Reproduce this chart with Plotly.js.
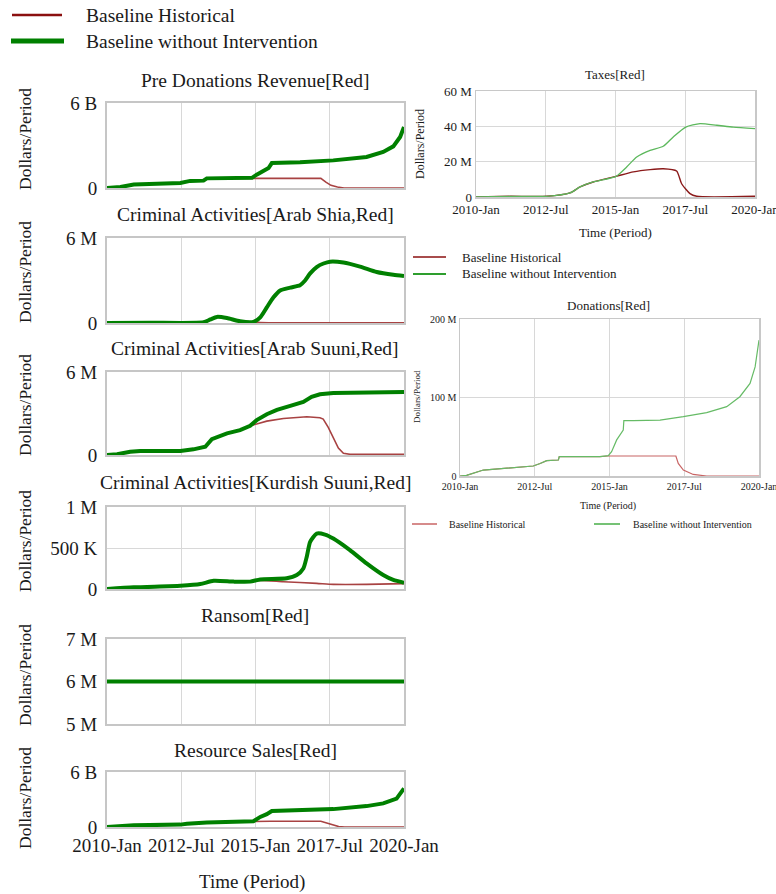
<!DOCTYPE html>
<html><head><meta charset="utf-8">
<script src="https://cdn.plot.ly/plotly-3.0.1.min.js"></script>
<style>html,body{margin:0;padding:0;background:#fff;} #chart{width:776px;height:894px;}</style>
</head><body><div id="chart"></div>
<script>
const W = 776, H = 894;
const serif = "'Liberation Serif', 'Times New Roman', serif";

// ---------- shared axis labels ----------
const timeTickVals = [2010, 2012.5, 2015, 2017.5, 2020];
const timeTickText = ["2010-Jan", "2012-Jul", "2015-Jan", "2017-Jul", "2020-Jan"];
const seriesNames = ["Baseline Historical", "Baseline without Intervention"];

// ---------- Pre Donations Revenue[Red] (B) ----------
const preDonTime  = [2010, 2010.45, 2010.9, 2011.46, 2012.47, 2012.8, 2013.25, 2013.36, 2014.26, 2014.88, 2015.04, 2015.27, 2015.44, 2015.55, 2016.5, 2017.62, 2018.74, 2019.3, 2019.64, 2019.87, 2020];
const preDonGreen = [0, 0.07, 0.24, 0.26, 0.35, 0.5, 0.52, 0.68, 0.68, 0.72, 0.94, 1.25, 1.41, 1.76, 1.81, 1.95, 2.19, 2.54, 2.94, 3.6, 4.3];
const preDonRedTime = [2010, 2010.45, 2010.9, 2011.46, 2012.47, 2012.8, 2013.25, 2013.36, 2014.26, 2014.88, 2016.0, 2017.2, 2017.37, 2017.54, 2017.76, 2017.98, 2020];
const preDonRed     = [0, 0.07, 0.24, 0.26, 0.35, 0.5, 0.52, 0.68, 0.68, 0.68, 0.68, 0.68, 0.42, 0.19, 0.07, 0.0, 0.0];

// ---------- Criminal Activities[Arab Shia,Red] (M) ----------
const shiaTime  = [2010, 2011.46, 2013.25, 2013.48, 2013.7, 2014.04, 2014.48, 2014.93, 2015.16, 2015.38, 2015.6, 2015.83, 2016.17, 2016.5, 2016.67, 2016.84, 2017.06, 2017.29, 2017.51, 2017.96, 2018.52, 2019.08, 2019.64, 2020];
const shiaGreen = [0, 0.02, 0.05, 0.25, 0.43, 0.35, 0.12, 0.08, 0.4, 1.1, 1.8, 2.3, 2.5, 2.67, 3.0, 3.5, 3.95, 4.2, 4.33, 4.27, 3.98, 3.6, 3.4, 3.32];
const shiaRedTime = [2010, 2011.46, 2013.25, 2013.48, 2013.7, 2014.04, 2014.48, 2014.93, 2015.16, 2020];
const shiaRed     = [0, 0.02, 0.05, 0.25, 0.43, 0.35, 0.12, 0.08, 0.04, 0.02];

// ---------- Criminal Activities[Arab Suuni,Red] (M) ----------
const suuniTime  = [2010, 2010.34, 2010.78, 2011.12, 2012.47, 2012.91, 2013.31, 2013.53, 2014.04, 2014.48, 2014.82, 2015.04, 2015.38, 2015.72, 2016.17, 2016.61, 2016.89, 2017.17, 2017.62, 2018.74, 2020];
const suuniGreen = [0, 0.05, 0.24, 0.29, 0.29, 0.41, 0.6, 1.15, 1.56, 1.8, 2.11, 2.52, 2.95, 3.26, 3.55, 3.84, 4.2, 4.39, 4.49, 4.51, 4.56];
const suuniRedTime = [2010, 2010.34, 2010.78, 2011.12, 2012.47, 2012.91, 2013.31, 2013.53, 2014.04, 2014.48, 2014.82, 2015.38, 2015.94, 2016.73, 2017.17, 2017.28, 2017.45, 2017.62, 2017.79, 2017.96, 2018.18, 2020];
const suuniRed     = [0, 0.05, 0.24, 0.29, 0.29, 0.41, 0.6, 1.15, 1.56, 1.8, 2.11, 2.45, 2.64, 2.76, 2.69, 2.6, 2.0, 1.2, 0.5, 0.12, 0.05, 0.05];

// ---------- Criminal Activities[Kurdish Suuni,Red] (K) ----------
const kurdTime  = [2010, 2010.9, 2012.47, 2013.14, 2013.59, 2014.26, 2014.82, 2015.16, 2016.05, 2016.39, 2016.61, 2016.73, 2016.84, 2017.06, 2017.34, 2017.62, 2018.18, 2018.74, 2019.3, 2019.64, 2020];
const kurdGreen = [0, 20, 40, 60, 100, 90, 90, 117, 130, 170, 250, 400, 575, 676, 664, 615, 474, 312, 170, 110, 77];
const kurdRedTime = [2010, 2010.9, 2012.47, 2013.14, 2013.59, 2014.26, 2014.82, 2015.16, 2015.94, 2017.06, 2017.62, 2018.74, 2020];
const kurdRed     = [0, 20, 40, 60, 100, 90, 90, 105, 89, 69, 57, 57, 65];

// ---------- Ransom[Red] (M) ----------
const ransomTime  = [2010, 2020];
const ransomGreen = [6, 6];
const ransomRed   = [6, 6];

// ---------- Resource Sales[Red] (B) ----------
const resTime  = [2010, 2010.9, 2012.47, 2012.69, 2013.36, 2014.26, 2014.93, 2015.16, 2015.38, 2015.55, 2016.5, 2017.62, 2018.74, 2019.3, 2019.75, 2020];
const resGreen = [0, 0.18, 0.26, 0.35, 0.5, 0.55, 0.63, 1.1, 1.4, 1.75, 1.8, 1.95, 2.28, 2.58, 3.1, 4.2];
const resRedTime = [2010, 2010.9, 2012.47, 2012.69, 2013.36, 2014.26, 2014.93, 2015.5, 2017.2, 2017.5, 2017.8, 2018.0, 2020];
const resRed     = [0, 0.18, 0.26, 0.35, 0.5, 0.55, 0.63, 0.63, 0.63, 0.3, 0.05, 0, 0];

// ---------- Taxes[Red] (M) ----------
const taxTime  = [2010, 2011.22, 2012.53, 2013.37, 2013.73, 2014.2, 2015.02, 2015.4, 2015.76, 2016.24, 2016.71, 2017.07, 2017.52, 2018.03, 2018.63, 2019.22, 2020];
const taxGreen = [0, 0.4, 0.4, 2.3, 5.7, 8.5, 11.7, 17, 22.6, 26.4, 28.7, 34, 39.6, 41.5, 40.6, 39.6, 38.7];
const taxRedTime = [2010, 2011.22, 2012.53, 2013.37, 2013.73, 2014.2, 2015.02, 2015.64, 2016.24, 2016.71, 2017.19, 2017.37, 2017.67, 2017.91, 2020];
const taxRed     = [0, 0.4, 0.4, 2.3, 5.7, 8.5, 11.7, 14.2, 15.5, 16.0, 14.7, 7.5, 1.9, 0.4, 0.4];

// ---------- Donations[Red] (M) ----------
const donTime  = [2010, 2010.22, 2010.78, 2011.11, 2012.45, 2012.68, 2012.9, 2013.29, 2013.32, 2014.68, 2014.96, 2015.07, 2015.24, 2015.46, 2015.48, 2015.8, 2016.69, 2017.47, 2018.25, 2018.92, 2019.36, 2019.7, 2019.87, 2020];
const donGreen = [0, 0.8, 7.6, 8.5, 12.7, 16, 19.5, 20.4, 24.6, 24.6, 26, 31, 46, 58.6, 70.5, 70.5, 71.3, 75.6, 80.7, 88.3, 101, 118, 139, 173];
const donRedTime = [2010, 2010.22, 2010.78, 2011.11, 2012.45, 2012.68, 2012.9, 2013.29, 2013.32, 2014.68, 2014.96, 2017.22, 2017.3, 2017.47, 2017.8, 2018.25, 2020];
const donRed     = [0, 0.8, 7.6, 8.5, 12.7, 16, 19.5, 20.4, 24.6, 24.6, 25.5, 25.5, 16, 7.6, 2, 0, 0];

// ---------- helpers ----------
const dx = (a, b) => [a / W, b / W];
const dy = (a, b) => [1 - b / H, 1 - a / H];
const px = v => v / W;
const py = v => 1 - v / H;

const leftRed = 'rgb(168,66,66)', leftGreen = '#008000';
const traces = [];
function addPair(xa, ya, tR, vR, tG, vG, style) {
  traces.push({type:'scatter', mode:'lines', x:tR, y:vR, xaxis:xa, yaxis:ya, name:seriesNames[0], showlegend:false,
    line:{color:style.red, width:style.rw, shape:style.shape || 'linear', smoothing:0.6}, hoverinfo:'skip'});
  traces.push({type:'scatter', mode:'lines', x:tG, y:vG, xaxis:xa, yaxis:ya, name:seriesNames[1], showlegend:false,
    line:{color:style.green, width:style.gw, shape:style.shape || 'linear', smoothing:0.6}, hoverinfo:'skip'});
}
const leftStyle = {red:leftRed, rw:1.6, green:leftGreen, gw:4};
addPair('x',  'y',  preDonRedTime, preDonRed, preDonTime, preDonGreen, leftStyle);
addPair('x2', 'y2', shiaRedTime, shiaRed, shiaTime, shiaGreen, Object.assign({}, leftStyle, {shape:'spline'}));
addPair('x3', 'y3', suuniRedTime, suuniRed, suuniTime, suuniGreen, leftStyle);
addPair('x4', 'y4', kurdRedTime, kurdRed, kurdTime, kurdGreen, Object.assign({}, leftStyle, {shape:'spline'}));
addPair('x5', 'y5', ransomTime, ransomRed, ransomTime, ransomGreen, leftStyle);
addPair('x6', 'y6', resRedTime, resRed, resTime, resGreen, leftStyle);
addPair('x7', 'y7', taxRedTime, taxRed, taxTime, taxGreen, {red:'#8b1a1a', rw:1.4, green:'#5cb85c', gw:1.3, shape:'spline'});
addPair('x8', 'y8', donRedTime, donRed, donTime, donGreen, {red:'#c86464', rw:1.2, green:'#66bb66', gw:1.2});

const txt = '#1a1a1a';
function xAxis(domain, anchor, show, size, standoff, lw, lc) {
  return {domain, anchor, range:[2010, 2020], tickvals:timeTickVals, ticktext:timeTickText, showticklabels:show,
    showgrid:true, gridcolor:'#d8d8d8', gridwidth:1, showline:true, mirror:true, linecolor:lc, linewidth:lw,
    zeroline:false, ticks:'', tickfont:{family:serif, size, color:txt}, ticklabelstandoff:standoff,
    ticklabeloverflow:'allow', fixedrange:true};
}
function yAxis(domain, anchor, range, tv, tt, size, standoff, lw, lc) {
  return {domain, anchor, range, tickvals:tv, ticktext:tt, showgrid:true, gridcolor:'#d8d8d8', gridwidth:1,
    showline:true, mirror:true, linecolor:lc, linewidth:lw, zeroline:false, ticks:'',
    tickfont:{family:serif, size, color:txt}, ticklabelstandoff:standoff, ticklabeloverflow:'allow', fixedrange:true};
}
const LX = [107, 404], LC = '#c6c6c6';
const layout = {
  width:W, height:H, margin:{l:0, r:0, t:0, b:0}, paper_bgcolor:'#fff', plot_bgcolor:'#fff', showlegend:false,
  xaxis:  xAxis(dx(...LX), 'y',  false, 19, 0, 2, LC),
  xaxis2: xAxis(dx(...LX), 'y2', false, 19, 0, 2, LC),
  xaxis3: xAxis(dx(...LX), 'y3', false, 19, 0, 2, LC),
  xaxis4: xAxis(dx(...LX), 'y4', false, 19, 0, 2, LC),
  xaxis5: xAxis(dx(...LX), 'y5', false, 19, 0, 2, LC),
  xaxis6: xAxis(dx(...LX), 'y6', true,  19, 0, 2, LC),
  xaxis7: xAxis(dx(476, 755), 'y7', true, 13, 0, 1.5, '#c8c8c8'),
  xaxis8: xAxis(dx(460, 759), 'y8', true, 10, 0, 1.5, '#c8c8c8'),
  yaxis:  yAxis(dy(103, 188), 'x',  [0, 6], [0, 6], ["0", "6 B"], 19, 4, 2, LC),
  yaxis2: yAxis(dy(238, 323), 'x2', [0, 6], [0, 6], ["0", "6 M"], 19, 4, 2, LC),
  yaxis3: yAxis(dy(372, 455), 'x3', [0, 6], [0, 6], ["0", "6 M"], 19, 4, 2, LC),
  yaxis4: yAxis(dy(507, 589), 'x4', [0, 1000], [0, 500, 1000], ["0", "500 K", "1 M"], 19, 4, 2, LC),
  yaxis5: yAxis(dy(639, 724), 'x5', [5, 7], [5, 6, 7], ["5 M", "6 M", "7 M"], 19, 4, 2, LC),
  yaxis6: yAxis(dy(772, 827), 'x6', [0, 6], [0, 6], ["0", "6 B"], 19, 4, 2, LC),
  yaxis7: yAxis(dy(91, 197), 'x7', [0, 60], [0, 20, 40, 60], ["0", "20 M", "40 M", "60 M"], 13, 0, 1.5, '#c8c8c8'),
  yaxis8: yAxis(dy(319, 476), 'x8', [0, 200], [0, 100, 200], ["0", "100 M", "200 M"], 10, 0, 1.5, '#c8c8c8'),
  annotations: [], shapes: []
};
function note(text, x, y, size, opt) {
  layout.annotations.push(Object.assign({text, xref:'paper', yref:'paper', x:px(x), y:py(y), showarrow:false,
    xanchor:'center', yanchor:'middle', font:{family:serif, size, color:txt}}, opt || {}));
}
function key(x0, x1, y, color, width) {
  layout.shapes.push({type:'line', xref:'paper', yref:'paper', x0:px(x0), x1:px(x1), y0:py(y), y1:py(y), line:{color, width}});
}
// left column titles
const leftTitles = ["Pre Donations Revenue[Red]", "Criminal Activities[Arab Shia,Red]", "Criminal Activities[Arab Suuni,Red]",
  "Criminal Activities[Kurdish Suuni,Red]", "Ransom[Red]", "Resource Sales[Red]"];
const titleY = [80, 215, 348, 482, 615, 750];
const yTitleY = [139, 272, 405, 541, 675, 798];
leftTitles.forEach((t, i) => {
  note(t, 255, titleY[i], 19.5);
  note("Dollars/Period", 25, yTitleY[i], 17.5, {textangle:-90});
});
note("Time (Period)", 252, 882, 19);
// taxes
note("Taxes[Red]", 615, 74, 13);
note("Dollars/Period", 420, 144, 12, {textangle:-90});
note("Time (Period)", 615, 233, 13);
// donations
note("Donations[Red]", 608, 305, 13);
note("Dollars/Period", 417, 397, 9, {textangle:-90});
note("Time (Period)", 608, 506, 10);
// legends
key(12, 62, 15, '#8b1010', 2.5); note(seriesNames[0], 84, 15, 19.5, {xanchor:'left'});
key(11, 64, 41, '#008000', 5);   note(seriesNames[1], 84, 41, 19.5, {xanchor:'left'});
key(413, 446, 257, '#8b1010', 1.5); note(seriesNames[0], 460, 257, 13, {xanchor:'left'});
key(413, 446, 274, '#2e9e2e', 1.8); note(seriesNames[1], 460, 274, 13, {xanchor:'left'});
key(412, 437, 524, '#c86464', 1.5); note(seriesNames[0], 447, 524, 10, {xanchor:'left'});
key(594, 620, 524, '#66bb66', 1.8); note(seriesNames[1], 631, 524, 10, {xanchor:'left'});

Plotly.newPlot('chart', traces, layout, {staticPlot:true, displayModeBar:false});
</script>
</body></html>
